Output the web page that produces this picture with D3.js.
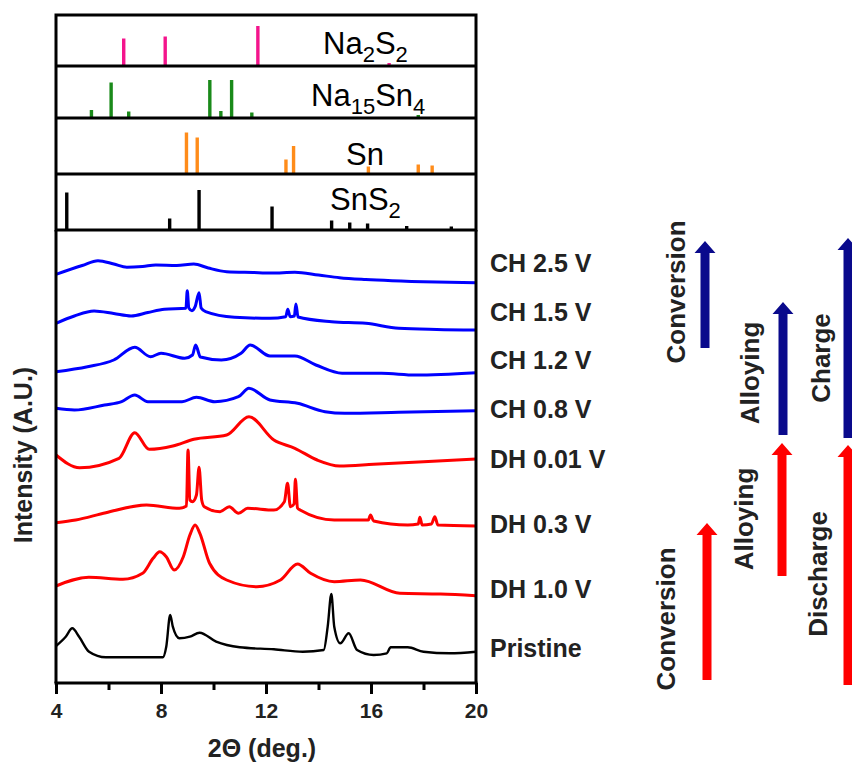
<!DOCTYPE html>
<html>
<head>
<meta charset="utf-8">
<script src="https://cdn.jsdelivr.net/npm/d3@7/dist/d3.min.js"></script>
<style>
  html, body { margin: 0; padding: 0; background: #fff; }
  svg { display: block; font-family: "Liberation Sans", Arial, sans-serif; }
</style>
</head>
<body>
<svg id="chart" width="852" height="765"></svg>
<script>
// ---------------- DATA ----------------
const xTicks = [4, 8, 12, 16, 20];
const xMinorTicks = [6, 10, 14, 18];

// Reference stick patterns (2θ position, relative intensity)
const na2s2Pos = [6.58, 8.16, 11.69, 16.69];
const na2s2Int = [0.55, 0.59, 0.80, 0.06];
const na15sn4Pos = [5.35, 6.10, 6.77, 9.86, 10.28, 10.69, 11.46, 17.80];
const na15sn4Int = [0.16, 0.71, 0.13, 0.76, 0.14, 0.76, 0.11, 0.06];
const snPos = [8.97, 9.38, 12.76, 13.05, 15.90, 17.80, 18.33];
const snInt = [0.83, 0.73, 0.29, 0.56, 0.15, 0.19, 0.17];
const sns2Pos = [4.41, 8.33, 9.45, 12.23, 14.50, 15.19, 15.87, 17.36, 19.06];
const sns2Int = [0.75, 0.23, 0.80, 0.47, 0.19, 0.15, 0.13, 0.08, 0.07];

// XRD patterns: [2θ, intensity] ; each shifted by its offset
const traceLabels = ["CH 2.5 V", "CH 1.5 V", "CH 1.2 V", "CH 0.8 V", "DH 0.01 V", "DH 0.3 V", "DH 1.0 V", "Pristine"];
const traceOffsets = [400, 350, 305, 270, 215, 155, 85, 25];
const traceColors = ["#0000ff", "#0000ff", "#0000ff", "#0000ff", "#ff0000", "#ff0000", "#ff0000", "#000000"];

const ch25 = [[4.0,8.7],[5.0,17.5],[5.6,22.3],[6.2,19],[6.7,15.7],[7.3,16.5],[7.8,18],[8.6,17.5],[9.25,19],[9.8,15],[10.5,11.3],[11.5,10.5],[12.2,10],[13.1,10.7],[14.0,8],[14.8,5.3],[15.8,3.5],[16.8,2.3],[18.5,1],[20,0.3]];
const ch15 = [[4.0,9.7],[4.7,17],[5.45,22],[6.2,19.5],[6.86,17],[7.5,20.5],[8.13,23.7],[8.95,24.7],[9.0,42.3],[9.06,25],[9.18,22.3],[9.3,26.3],[9.45,40.3],[9.53,25],[9.7,21.3],[10.8,15.7],[12.15,14.7],[12.75,16.3],[12.83,23.7],[12.92,16.3],[13.08,17],[13.14,29],[13.22,16],[14.5,11.3],[15.8,9.7],[17.06,4.7],[18.5,3.5],[20,3]];
const ch12 = [[4.0,6.3],[5.2,11.3],[6.2,18],[7.0,30.7],[7.6,21.3],[8.0,24.7],[8.9,19.7],[9.2,23],[9.32,33],[9.5,21],[10.3,18],[11.05,24.7],[11.4,33],[12.15,22],[13.1,22],[13.9,13],[14.9,4.7],[16.4,4.7],[17.7,3],[20,5.3]];
const ch08 = [[4.0,4.7],[4.7,3],[5.85,8],[6.5,11.3],[7.0,18],[7.5,11.3],[8.8,11.3],[9.35,15.7],[10.05,11.3],[10.95,16.3],[11.35,24.7],[12.15,13],[13.2,9.7],[14.25,1.3],[15.0,-0.3],[17.05,0.7],[20,2.3]];
const dh001 = [[4.0,13],[4.9,0.3],[6.4,9.7],[7.0,35.3],[7.55,18.7],[8.45,22],[9.25,28.7],[10.5,33],[11.35,51.3],[12.3,28],[13.1,19.7],[13.95,8],[14.8,2],[16.1,3.7],[18.0,6.3],[20,9]];
const dh03 = [[4.0,5.3],[4.75,8],[5.9,15.3],[7.45,23],[8.7,19.7],[8.97,22],[9.03,78],[9.1,28],[9.2,26.3],[9.35,33],[9.45,60.7],[9.55,28],[9.65,21.3],[10.25,16.3],[10.6,21.3],[10.95,14.7],[11.3,19.7],[12.3,18],[12.7,26.3],[12.82,44.7],[12.93,21.3],[13.07,24],[13.12,48.7],[13.2,20],[13.3,18],[14.6,8],[15.9,8],[15.98,13],[16.1,7],[17.4,3],[17.8,4],[17.86,10.7],[17.95,3],[18.3,4],[18.43,11.3],[18.55,3],[20,2]];
const dh10 = [[4.0,12],[5.25,20.7],[6.55,18.7],[7.3,24.7],[7.7,39.7],[7.95,46.3],[8.2,41.3],[8.5,28],[8.85,41.3],[9.1,63],[9.3,73],[9.48,64.7],[9.85,34.7],[10.5,18],[11.65,11.3],[12.55,18],[13.2,34],[13.7,24.7],[14.6,16.3],[15.6,18],[17.1,4.7],[18.65,4],[20,2.3]];
const pristine = [[4.0,12],[4.37,21.3],[4.62,29.7],[4.88,21.3],[5.26,6.3],[5.9,0.7],[8.07,0.7],[8.2,11.3],[8.35,43],[8.45,31.3],[8.7,19.7],[9.1,21.3],[9.47,25.3],[10.1,16.3],[11.0,10.7],[12.3,8.7],[13.4,6.3],[14.2,8],[14.35,31.3],[14.49,64],[14.6,31.3],[14.83,14.7],[15.15,24.7],[15.47,8],[16.1,3],[16.6,4.7],[16.75,10.7],[17.4,10.7],[18.0,6.3],[19.0,4.7],[20,6.3]];
const traces = [ch25, ch15, ch12, ch08, dh001, dh03, dh10, pristine];

// ---------------- LAYOUT ----------------
const svg = d3.select("#chart");
const L = 56, R = 476;
const mainTop = 230, mainBottom = 683;
const panelEdges = [15, 66, 118, 174, 230];
const font = '"Liberation Sans", Arial, sans-serif';

const x = d3.scaleLinear().domain([4, 20]).range([L, R]);
const y = d3.scaleLinear().domain([0, mainBottom - mainTop]).range([mainBottom, mainTop]);

// ---------------- STICK PANELS ----------------
const panels = [
  { pos: na2s2Pos, inten: na2s2Int, color: "#f4148c" },
  { pos: na15sn4Pos, inten: na15sn4Int, color: "#1a8a1a" },
  { pos: snPos, inten: snInt, color: "#ff8c1a" },
  { pos: sns2Pos, inten: sns2Int, color: "#000000" }
];
panels.forEach((p, i) => {
  const bottom = panelEdges[i + 1];
  const py = d3.scaleLinear().domain([0, 1]).range([bottom, bottom - 50]);
  svg.append("g").selectAll("line")
    .data(d3.zip(p.pos, p.inten))
    .join("line")
    .attr("x1", d => x(d[0])).attr("x2", d => x(d[0]))
    .attr("y1", py(0)).attr("y2", d => py(d[1]))
    .attr("stroke", p.color).attr("stroke-width", 3.4);
});

// panel frame
svg.append("rect").attr("x", L).attr("y", panelEdges[0])
  .attr("width", R - L).attr("height", panelEdges[4] - panelEdges[0])
  .attr("fill", "none").attr("stroke", "#000").attr("stroke-width", 3);
panelEdges.slice(1, 4).forEach(e => {
  svg.append("line").attr("x1", L).attr("x2", R).attr("y1", e).attr("y2", e)
    .attr("stroke", "#000").attr("stroke-width", 3);
});

// panel labels with subscripts
function chem(xp, yp, parts) {
  const t = svg.append("text").attr("x", xp).attr("y", yp)
    .attr("font-size", 31).attr("fill", "#000").style("font-family", font);
  let sub = false;
  parts.forEach(([s, isSub]) => {
    const ts = t.append("tspan").text(s);
    if (isSub && !sub) ts.attr("dy", 8).attr("font-size", 22);
    else if (isSub && sub) ts.attr("font-size", 22);
    else if (!isSub && sub) ts.attr("dy", -8);
    sub = isSub;
  });
}
chem(323, 54, [["Na", false], ["2", true], ["S", false], ["2", true]]);
chem(311, 106, [["Na", false], ["15", true], ["Sn", false], ["4", true]]);
chem(346, 165, [["Sn", false]]);
chem(330, 210, [["SnS", false], ["2", true]]);

// ---------------- MAIN PLOT ----------------
const line = d3.line().x(d => x(d[0])).y(d => d[1]).curve(d3.curveMonotoneX);
traces.forEach((tr, i) => {
  const pts = tr.map(d => [d[0], y(d[1] + traceOffsets[i])]);
  svg.append("path").attr("d", line(pts))
    .attr("fill", "none").attr("stroke", traceColors[i])
    .attr("stroke-width", i === 7 ? 2.4 : 3)
    .attr("stroke-linejoin", "round");
});

// left & right borders
svg.append("line").attr("x1", L).attr("x2", L).attr("y1", mainTop).attr("y2", mainBottom)
  .attr("stroke", "#000").attr("stroke-width", 3);
svg.append("line").attr("x1", R).attr("x2", R).attr("y1", mainTop).attr("y2", mainBottom)
  .attr("stroke", "#000").attr("stroke-width", 3);

// x axis
const ax = svg.append("g").attr("transform", `translate(0,${mainBottom})`)
  .call(d3.axisBottom(x).tickValues(xTicks).tickSize(11).tickPadding(9).tickFormat(d3.format("d")));
ax.select(".domain").attr("stroke-width", 3).attr("d", `M${L - 1.5},0H${R + 1.5}`);
ax.selectAll(".tick line").attr("stroke-width", 3);
ax.selectAll(".tick text").attr("font-size", 21).attr("font-weight", "bold")
  .style("font-family", font).attr("fill", "#222");
const axm = svg.append("g").attr("transform", `translate(0,${mainBottom})`)
  .call(d3.axisBottom(x).tickValues(xMinorTicks).tickSize(7).tickFormat(""));
axm.select(".domain").remove();
axm.selectAll(".tick line").attr("stroke-width", 3);

// axis titles
svg.append("text").attr("x", 262).attr("y", 757).attr("text-anchor", "middle")
  .attr("font-size", 25).attr("font-weight", "bold").attr("fill", "#222")
  .style("font-family", font).text("2Θ (deg.)");
svg.append("text").attr("transform", "translate(32,455) rotate(-90)")
  .attr("text-anchor", "middle").attr("font-size", 25).attr("font-weight", "bold")
  .attr("fill", "#222").style("font-family", font).text("Intensity (A.U.)");

// trace labels
const labelY = [272, 321, 369, 418, 468, 533, 598, 657];
svg.append("g").selectAll("text").data(traceLabels).join("text")
  .attr("x", 490).attr("y", (d, i) => labelY[i])
  .attr("font-size", 25).attr("font-weight", "bold").attr("fill", "#222")
  .style("font-family", font).text(d => d);

// ---------------- MECHANISM ARROWS ----------------
function arrow(xc, yb, yt, color) {
  const sw = 9, hw = 21, hl = 12;
  const p = d3.path();
  p.moveTo(xc - sw / 2, yb);
  p.lineTo(xc - sw / 2, yt + hl);
  p.lineTo(xc - hw / 2, yt + hl);
  p.lineTo(xc, yt);
  p.lineTo(xc + hw / 2, yt + hl);
  p.lineTo(xc + sw / 2, yt + hl);
  p.lineTo(xc + sw / 2, yb);
  p.closePath();
  svg.append("path").attr("d", p.toString()).attr("fill", color);
}
const navy = "#0a0a8c", red = "#ff0000";
arrow(705, 348, 241, navy);
arrow(783, 435, 302, navy);
arrow(848, 438, 238, navy);
arrow(707, 680, 523, red);
arrow(782, 576, 443, red);
arrow(848, 685, 445, red);

function vlabel(xb, yc, txt) {
  svg.append("text").attr("transform", `translate(${xb},${yc}) rotate(-90)`)
    .attr("text-anchor", "middle").attr("font-size", 26).attr("font-weight", "bold")
    .attr("fill", "#222").style("font-family", font).text(txt);
}
vlabel(685, 292, "Conversion");
vlabel(759, 373, "Alloying");
vlabel(830, 358, "Charge");
vlabel(675, 619, "Conversion");
vlabel(753, 519, "Alloying");
vlabel(827, 574, "Discharge");
</script>
</body>
</html>
